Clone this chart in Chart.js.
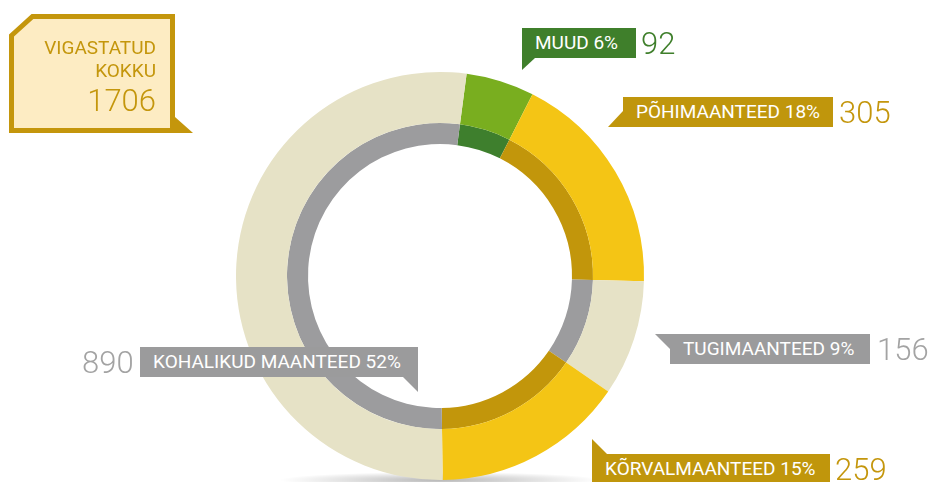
<!DOCTYPE html>
<html>
<head>
<meta charset="utf-8">
<script src="https://cdn.jsdelivr.net/npm/chart.js@4/dist/chart.umd.min.js"></script>
<style>
body { margin: 0; background: #fff; font-family: Roboto, "Open Sans", sans-serif; }
#wrap { position: relative; width: 929px; height: 482px; overflow: hidden; }
#wrap canvas, #wrap svg { position: absolute; left: 0; top: 0; }
.tag { position: absolute; height: 30px; line-height: 30px; color: #fff; font-size: 19px; padding-left: 13px; box-sizing: border-box; white-space: nowrap; }
.num { position: absolute; font-size: 31px; line-height: 30px; font-weight: 300; white-space: nowrap; }
.tot { position: absolute; left: 10px; width: 146px; text-align: right; color: #c4960c; white-space: nowrap; }
</style>
</head>
<body>
<div id="wrap">
  <canvas id="ring" width="929" height="482"></canvas>
  <svg id="shapes" width="929" height="482"></svg>
  <div id="labels"></div>
</div>
<script>
// data
const categories = ['MUUD', 'PÕHIMAANTEED', 'TUGIMAANTEED', 'KÕRVALMAANTEED', 'KOHALIKUD MAANTEED'];
const counts = [92, 305, 156, 259, 890];
const shares = [6, 18, 9, 15, 52];
const totalLabel = ['VIGASTATUD', 'KOKKU'];
const total = 1706;

const outerColors = ['#79ae1f', '#f4c515', '#e6e2c6', '#f4c515', '#e6e2c6'];
const innerColors = ['#3e7f2d', '#c2960b', '#9c9c9e', '#c2960b', '#9c9c9e'];
const tagColors = ['#3f7f2b', '#c0960c', '#9b9b9c', '#c0960c', '#9b9b9c'];
const numColors = ['#3f7f2b', '#c4960c', '#a3a3a3', '#c4960c', '#a3a3a3'];

// callout placement (box left/top/width, number x, tail triangle)
const callouts = [
    { x: 522, y: 28, w: 114, nx: 641, tail: '522,58 535,58 522,70' },
    { x: 623, y: 97, w: 210, nx: 839, tail: '608,127 623,127 623,111' },
    { x: 670, y: 334, w: 200, nx: 877, tail: '655,334 670,334 670,349' },
    { x: 592, y: 454, w: 238, nx: 835, tail: '592,439 592,454 607,454' },
    { x: 140, y: 347, w: 278, nx: 82, tail: '403,377 418,377 418,392' }
];

// soft shadow under the ring
const shadowPlugin = {
    id: 'shadow',
    beforeDatasetsDraw(chart) {
        const c = chart.ctx;
        const meta = chart.getDatasetMeta(0);
        const arc = meta.data[0];
        const cx = arc.x, cy = arc.y + arc.outerRadius;
        c.save();
        c.translate(cx, cy);
        c.scale(1, 0.05);
        const g = c.createRadialGradient(0, 0, 0, 0, 0, 160);
        g.addColorStop(0, 'rgba(0,0,0,0.28)');
        g.addColorStop(1, 'rgba(0,0,0,0)');
        c.fillStyle = g;
        c.beginPath();
        c.arc(0, 0, 160, 0, Math.PI * 2);
        c.fill();
        c.restore();
    }
};

new Chart(document.getElementById('ring'), {
    type: 'doughnut',
    data: {
        labels: categories,
        datasets: [
            { data: counts, backgroundColor: outerColors, weight: 51, borderWidth: 0, hoverOffset: 0 },
            { data: counts, backgroundColor: innerColors, weight: 21, borderWidth: 0, hoverOffset: 0 }
        ]
    },
    options: {
        responsive: false,
        animation: false,
        events: [],
        rotation: 7.5,
        cutout: 132,
        layout: { padding: { left: 236, top: 72, right: 285, bottom: 2 } },
        plugins: { legend: { display: false }, tooltip: { enabled: false } }
    },
    plugins: [shadowPlugin]
});

// shapes: total box + callout tails
const svg = document.getElementById('shapes');
let s = '';
s += '<polygon points="11.5,35.5 32.5,16.5 172.5,16.5 172.5,130.5 11.5,130.5" fill="#fdecc3" stroke="#c4960c" stroke-width="5"/>';
s += '<polygon points="175,117 193,133 175,133" fill="#c4960c"/>';
callouts.forEach((c, i) => {
    s += `<polygon points="${c.tail}" fill="${tagColors[i]}"/>`;
});
svg.innerHTML = s;

const box = document.getElementById('labels');
let html = '';
html += `<div class="tot" style="top:38px;font-size:19px;line-height:19px">${totalLabel[0]}</div>`;
html += `<div class="tot" style="top:61px;font-size:19px;line-height:19px">${totalLabel[1]}</div>`;
html += `<div class="tot" style="top:85px;font-size:31px;line-height:31px;font-weight:300">${total}</div>`;
callouts.forEach((c, i) => {
    html += `<div class="tag" style="left:${c.x}px;top:${c.y}px;width:${c.w}px;background:${tagColors[i]}">${categories[i]} ${shares[i]}%</div>`;
    html += `<div class="num" style="left:${c.nx}px;top:${c.y + 1}px;color:${numColors[i]}">${counts[i]}</div>`;
});
box.innerHTML = html;
</script>
</body>
</html>
